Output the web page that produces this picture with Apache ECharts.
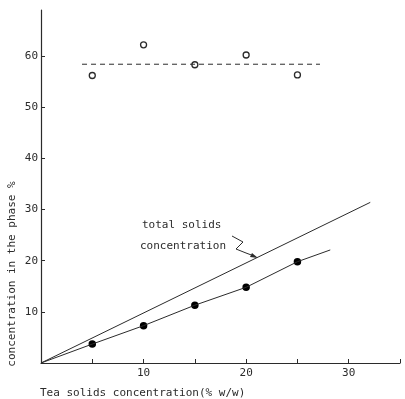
<!DOCTYPE html>
<html>
<head>
<meta charset="utf-8">
<script src="https://cdn.jsdelivr.net/npm/echarts@6/dist/echarts.min.js"></script>
<style>
  html, body { margin: 0; padding: 0; background: #fff; }
  #chart { width: 405px; height: 399px; }
</style>
</head>
<body>
<div id="chart"></div>
<script>
// 数据
var teaSolids = [5, 10, 15, 20, 25];
var openValues = [56.2, 62.2, 58.3, 60.2, 56.3];
var filledValues = [3.7, 7.3, 11.3, 14.8, 19.8];
var filledLine = [[0, 0], [5, 3.7], [10, 7.3], [15, 11.3], [20, 14.8], [25, 19.8], [28.2, 22.1]];
var totalLine = [[0, 0], [32.1, 31.4]];
var dashedLine = [[4, 58.4], [27.2, 58.4]];
var xTicks = [5, 10, 15, 20, 25, 30, 35];
var xTickLabels = [10, 20, 30];
var yTickLabels = [10, 20, 30, 40, 50, 60];

var INK = '#2b2b2b';
var FONT = 'DejaVu Sans Mono';

function pairs(xs, ys) {
  return xs.map(function(x, i) { return [x, ys[i]]; });
}

var myChart = echarts.init(document.getElementById('chart'));

var opts = {
  backgroundColor: '#fff',
  animation: false,
  grid: { left: 41, right: 5, top: 10, bottom: 36 },
  xAxis: {
    type: 'value', min: 0, max: 35,
    axisLine: { lineStyle: { color: INK, width: 1.2 } },
    axisTick: { inside: true, length: 4, customValues: xTicks, lineStyle: { color: INK } },
    splitLine: { show: false },
    axisLabel: {
      color: INK, fontFamily: FONT, fontSize: 11, margin: 5,
      customValues: xTickLabels
    }
  },
  yAxis: {
    type: 'value', min: 0, max: 69,
    axisLine: { show: true, lineStyle: { color: INK, width: 1.2 } },
    axisTick: { show: true, inside: true, length: 4, customValues: yTickLabels, lineStyle: { color: INK } },
    splitLine: { show: false },
    axisLabel: {
      color: INK, fontFamily: FONT, fontSize: 11, margin: 3,
      customValues: yTickLabels
    }
  },
  series: [
    {
      type: 'line', data: totalLine, symbol: 'none',
      lineStyle: { color: INK, width: 1 }
    },
    {
      type: 'line', data: filledLine, symbol: 'none',
      lineStyle: { color: INK, width: 1 }
    },
    {
      type: 'line', data: dashedLine, symbol: 'none',
      lineStyle: { color: INK, width: 1, type: [5, 4] }
    },
    {
      type: 'scatter', data: pairs(teaSolids, filledValues), symbolSize: 11,
      itemStyle: { color: '#000', borderColor: '#fff', borderWidth: 3.5, opacity: 1 }
    },
    {
      type: 'scatter', data: pairs(teaSolids, openValues), symbolSize: 6,
      itemStyle: { color: '#fff', borderColor: INK, borderWidth: 1.3, opacity: 1 }
    }
  ],
  graphic: [
    {
      type: 'text', x: 12, y: 274, rotation: Math.PI / 2,
      style: {
        text: 'concentration in the phase %', fill: INK,
        font: '11px ' + FONT, align: 'center', verticalAlign: 'middle'
      }
    },
    {
      type: 'text', x: 40, y: 393,
      style: {
        text: 'Tea solids concentration(% w/w)', fill: INK,
        font: '11px ' + FONT, align: 'left', verticalAlign: 'middle'
      }
    },
    {
      type: 'text', x: 142, y: 225,
      style: { text: 'total solids', fill: INK, font: '11px ' + FONT, verticalAlign: 'middle' }
    },
    {
      type: 'text', x: 140, y: 246,
      style: { text: 'concentration', fill: INK, font: '11px ' + FONT, verticalAlign: 'middle' }
    },
    {
      type: 'polyline',
      shape: { points: [[232, 236], [243, 242], [236, 249], [246, 253], [254, 256]] },
      style: { stroke: INK, lineWidth: 1, fill: null }
    },
    {
      type: 'polygon',
      shape: { points: [[258, 258], [250, 257], [252, 253]] },
      style: { fill: INK }
    }
  ]
};

myChart.setOption(opts);
</script>
</body>
</html>
